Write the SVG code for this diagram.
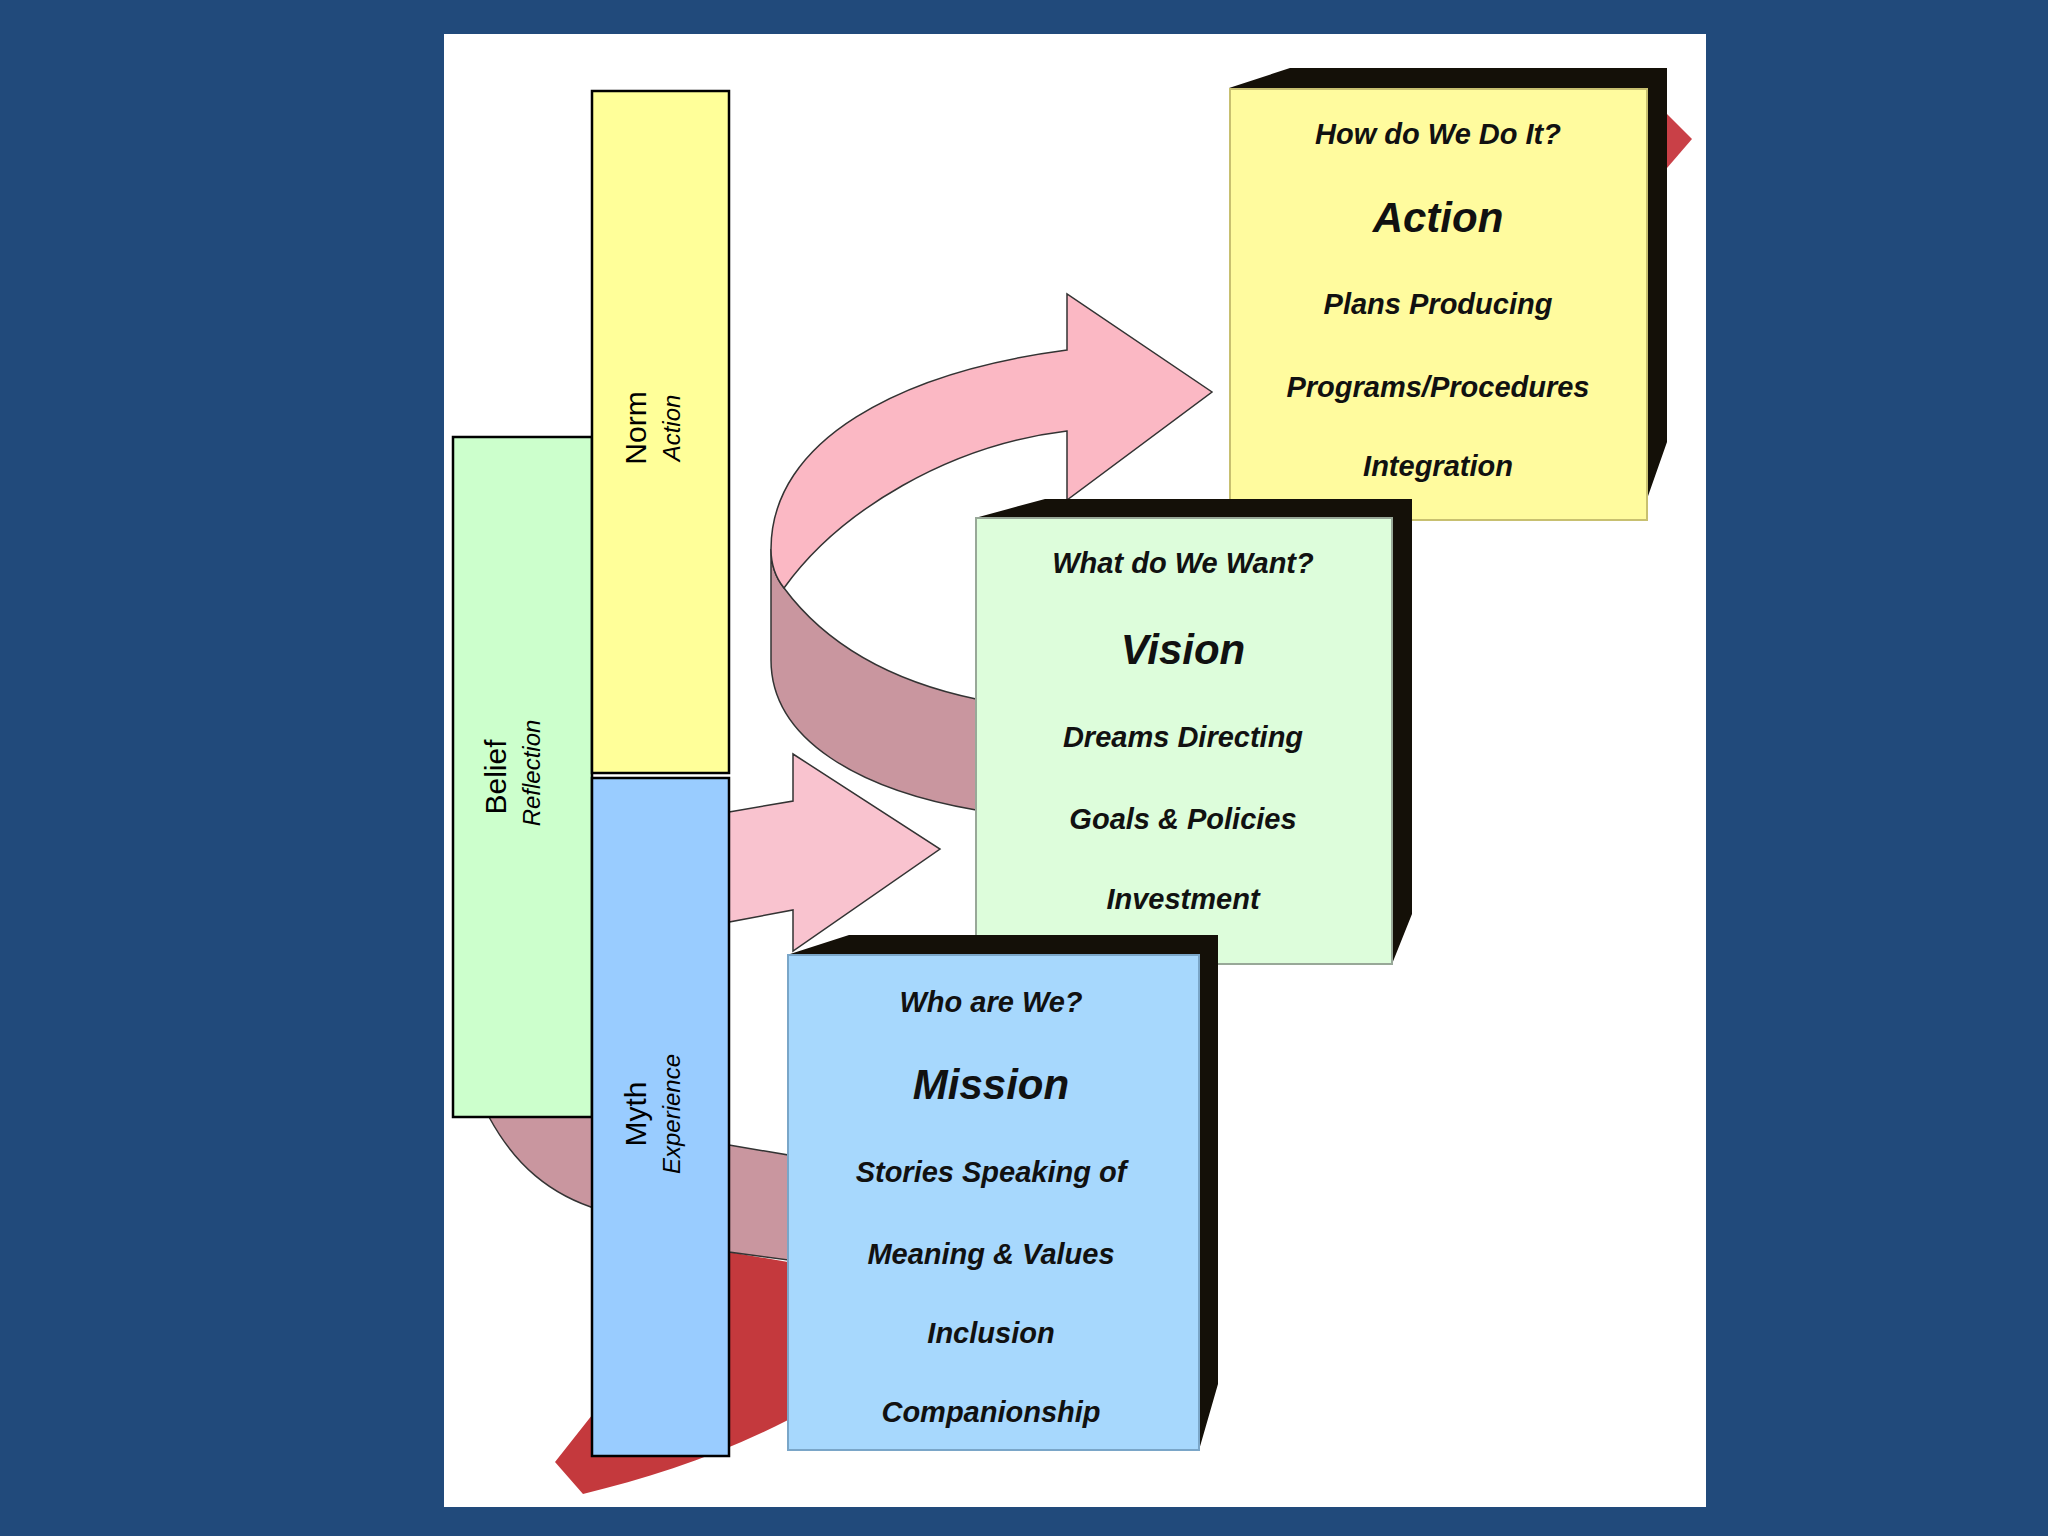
<svg xmlns="http://www.w3.org/2000/svg" width="2048" height="1536" viewBox="0 0 2048 1536">
<style>
.bar{stroke:#000;stroke-width:2.5}
.bt{font-family:"Liberation Sans",Arial,sans-serif;font-size:30px;fill:#000;text-anchor:middle}
.bi{font-family:"Liberation Sans",Arial,sans-serif;font-size:24px;font-style:italic;fill:#000;text-anchor:middle}
.t{font-family:"Liberation Sans",Arial,sans-serif;font-size:29px;font-weight:bold;font-style:italic;fill:#111;text-anchor:middle}
.h{font-family:"Liberation Sans",Arial,sans-serif;font-size:42px;font-weight:bold;font-style:italic;fill:#111;text-anchor:middle}
.depth{fill:#141008}
.arr{stroke:#333;stroke-width:1.5}
</style>
<rect width="2048" height="1536" fill="#214A7B"/>
<rect x="444" y="34" width="1262" height="1473" fill="#fff"/>
<g id="connectors">
  <polygon points="1667,114 1692,139 1667,168" fill="#C94047"/>
  <path d="M729,1252 L788,1262 L788,1420 C720,1455 650,1478 583,1494 L555,1462 L600,1405 L600,1250 Z" fill="#C4393D"/>
  <path d="M489,1117 C515,1165 550,1195 600,1210 L600,1117 Z" fill="#C9969F" class="arr"/>
  <polygon points="729,1145 788,1155 788,1260 729,1252" fill="#C9969F" class="arr"/>
  <path d="M771,549 C771,565 776,578 784,588 C830,650 900,683 976,699 L976,810 C860,790 771,740 771,660 Z" fill="#C9969F" class="arr"/>
  <path d="M1067,350 L1067,294 L1212,392 L1067,500 L1067,431 C950,445 840,510 784,588 C776,578 771,565 771,549 C771,440 900,372 1067,350 Z" fill="#FBB8C4" class="arr"/>
  <path d="M729,812 L793,801 L793,754 L940,849 L793,951 L793,910 L729,922 Z" fill="#F9C3CF" class="arr"/>
</g>
<g id="belief"><rect class="bar" x="453" y="437" width="139" height="680" fill="#CCFFCC"/>
  <text class="bt" transform="translate(506,777) rotate(-90)">Belief</text>
  <text class="bi" transform="translate(540,773) rotate(-90)">Reflection</text></g>
<g id="norm"><rect class="bar" x="592" y="91" width="137" height="682" fill="#FFFF99"/>
  <text class="bt" transform="translate(646,428) rotate(-90)">Norm</text>
  <text class="bi" transform="translate(680,428) rotate(-90)">Action</text></g>
<g id="myth"><rect class="bar" x="592" y="778" width="137" height="678" fill="#99CCFF"/>
  <text class="bt" transform="translate(646,1114) rotate(-90)">Myth</text>
  <text class="bi" transform="translate(680,1114) rotate(-90)">Experience</text></g>
<g id="action">
  <polygon class="depth" points="1229,88 1290,68 1667,68 1667,442 1647,499 1647,88"/>
  <rect x="1230" y="89" width="417" height="431" fill="#FFFB9E" stroke="#C8C070" stroke-width="2"/>
  <text class="t" x="1438" y="144">How do We Do It?</text>
  <text class="h" x="1438" y="232">Action</text>
  <text class="t" x="1438" y="314">Plans Producing</text>
  <text class="t" x="1438" y="397">Programs/Procedures</text>
  <text class="t" x="1438" y="476">Integration</text>
</g>
<g id="vision">
  <polygon class="depth" points="975,518 1045,499 1412,499 1412,914 1392,964 1392,518"/>
  <rect x="976" y="518" width="416" height="446" fill="#DDFDDB" stroke="#98A898" stroke-width="2"/>
  <text class="t" x="1183" y="573">What do We Want?</text>
  <text class="h" x="1183" y="664">Vision</text>
  <text class="t" x="1183" y="747">Dreams Directing</text>
  <text class="t" x="1183" y="829">Goals &amp; Policies</text>
  <text class="t" x="1183" y="909">Investment</text>
</g>
<g id="mission">
  <polygon class="depth" points="787,955 849,935 1218,935 1218,1384 1199,1450 1199,955"/>
  <rect x="788" y="955" width="411" height="495" fill="#A7D8FD" stroke="#7AA6C8" stroke-width="2"/>
  <text class="t" x="991" y="1012">Who are We?</text>
  <text class="h" x="991" y="1099">Mission</text>
  <text class="t" x="991" y="1182">Stories Speaking  of</text>
  <text class="t" x="991" y="1264">Meaning &amp; Values</text>
  <text class="t" x="991" y="1343">Inclusion</text>
  <text class="t" x="991" y="1422">Companionship</text>
</g>
</svg>
